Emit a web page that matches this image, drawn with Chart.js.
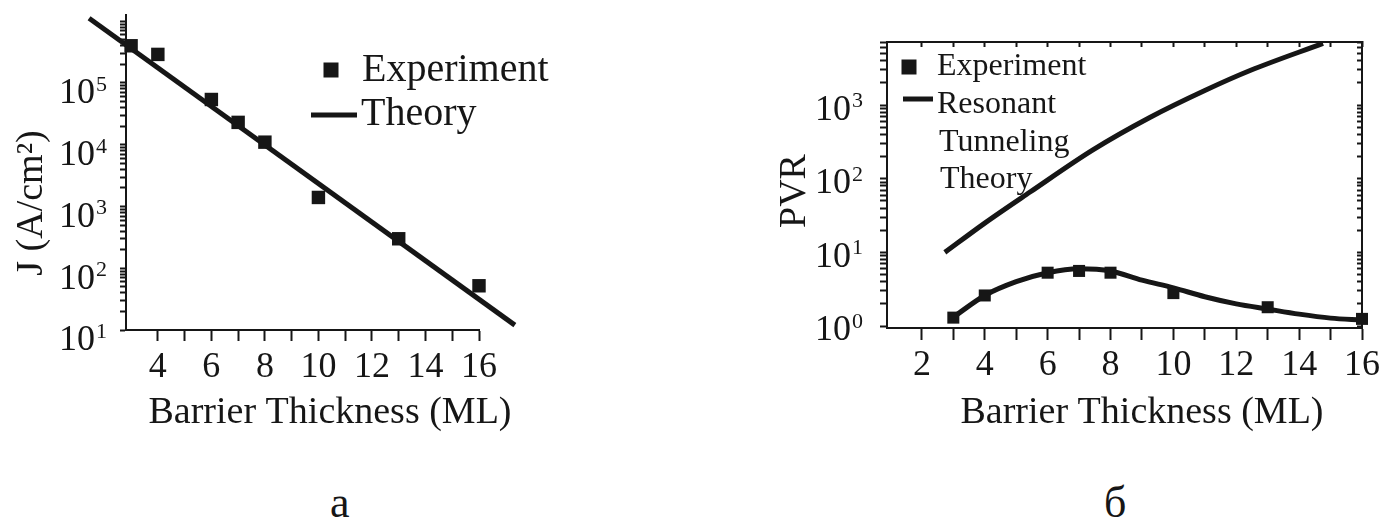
<!DOCTYPE html>
<html>
<head>
<meta charset="utf-8">
<script src="https://cdn.jsdelivr.net/npm/chart.js@4.4.1/dist/chart.umd.min.js"></script>
<style>
  body { margin: 0; background: #fff; width: 1400px; height: 530px; overflow: hidden; position: relative; font-family: 'Liberation Serif', 'DejaVu Serif', serif; }
  .box { position: absolute; top: 0; width: 700px; height: 460px; }
  .cap { position: absolute; top: 481px; font-size: 44px; line-height: 44px; color: #161616; }
</style>
</head>
<body>
<div class="box" style="left:0"><canvas id="left" width="700" height="460"></canvas></div>
<div class="box" style="left:700px"><canvas id="right" width="700" height="460"></canvas></div>
<div class="cap" style="left:330px">а</div>
<div class="cap" style="left:1104px">б</div>
<script>
const INK = '#161616';
const SERIF = "'Liberation Serif', 'DejaVu Serif', serif";

// (а) current density vs barrier thickness
const thickA = [3, 4, 6, 7, 8, 10, 13, 16];
const currentExp = [4.0e5, 2.9e5, 5.4e4, 2.3e4, 1.1e4, 1.4e3, 300, 52];
const theoryX = [1.43, 17.34];
const theoryJ = [1.12e6, 12];

// (б) peak-to-valley ratio vs barrier thickness
const thickB = [3, 4, 6, 7, 8, 10, 13, 16];
const pvrExp = [1.3, 2.6, 5.3, 5.6, 5.3, 2.8, 1.8, 1.25];
const fitX = [3, 4, 5, 6, 7, 8, 9, 10, 11, 12, 13, 14, 15, 16];
const pvrFit = [1.32, 2.6, 4.0, 5.3, 6.0, 5.6, 4.2, 3.3, 2.5, 2.0, 1.7, 1.45, 1.28, 1.2];
const rtX = [2.73, 4, 5.44, 7.44, 9.25, 11, 12.44, 14.76];
const pvrRT = [10, 25, 66, 247, 680, 1580, 2950, 6900];

// tick labels
const thickLabels = [2, 4, 6, 8, 10, 12, 14, 16];
const jDecades = [1, 2, 3, 4, 5];
const pvrDecades = [0, 1, 2, 3];

const pts = (xs, ys) => xs.map((x, i) => ({ x, y: ys[i] }));

// log ticks 1..9 x 10^n inside the range
function logTicks(scale) {
  const out = [];
  const lo = Math.floor(Math.log10(scale.min));
  const hi = Math.ceil(Math.log10(scale.max));
  for (let e = lo; e <= hi; e++) {
    for (let m = 1; m <= 9; m++) {
      const v = m * Math.pow(10, e);
      if (v >= scale.min && v <= scale.max) out.push({ value: v, major: m === 1 });
    }
  }
  scale.ticks = out;
}
const unitTicks = from => scale => {
  const out = [];
  for (let v = from; v <= 16; v++) out.push({ value: v });
  scale.ticks = out;
};

// y labels as 10^n, axis titles, legend
const decor = {
  id: 'decor',
  afterDraw(chart, args, o) {
    const ctx = chart.ctx;
    const y = chart.scales.y;
    ctx.save();
    ctx.fillStyle = INK;
    ctx.strokeStyle = INK;
    ctx.textBaseline = 'middle';
    ctx.textAlign = 'right';
    o.decades.forEach(n => {
      const py = y.getPixelForValue(Math.pow(10, n)) + o.labelDy;
      ctx.font = '22px ' + SERIF;
      const sw = ctx.measureText(String(n)).width;
      ctx.fillText(String(n), o.labelRight, py - 9);
      ctx.font = '36px ' + SERIF;
      ctx.fillText('10', o.labelRight - sw - 1, py);
    });
    o.texts.forEach(t => {
      ctx.save();
      ctx.translate(t.x, t.y);
      if (t.rot) ctx.rotate(t.rot);
      ctx.font = t.size + 'px ' + SERIF;
      ctx.textAlign = t.align || 'center';
      ctx.fillText(t.text, 0, 0);
      ctx.restore();
    });
    o.marks.forEach(m => {
      if (m.type === 'square') {
        ctx.fillRect(m.x - m.size / 2, m.y - m.size / 2, m.size, m.size);
      } else {
        ctx.lineWidth = m.w;
        ctx.beginPath();
        ctx.moveTo(m.x1, m.y);
        ctx.lineTo(m.x2, m.y);
        ctx.stroke();
      }
    });
    ctx.restore();
  }
};

const tickFont = { family: SERIF, size: 36 };
const xLabel = v => (thickLabels.includes(v) ? String(v) : '');

new Chart(document.getElementById('left'), {
  type: 'scatter',
  data: {
    datasets: [
      { label: 'Experiment', data: pts(thickA, currentExp), pointStyle: 'rect', pointRadius: 9.5,
        backgroundColor: INK, borderColor: INK, borderWidth: 0, clip: false },
      { label: 'Theory', data: pts(theoryX, theoryJ), showLine: true, borderColor: INK,
        borderWidth: 5, pointRadius: 0, clip: false }
    ]
  },
  options: {
    responsive: false,
    animation: false,
    layout: { padding: { top: 15, right: 221, left: 0, bottom: 0 } },
    plugins: {
      legend: { display: false },
      tooltip: { enabled: false },
      decor: {
        decades: jDecades, labelDy: 11, labelRight: 107,
        texts: [
          { text: 'J (A/cm²)', x: 32, y: 203, size: 38, rot: -Math.PI / 2 },
          { text: 'Barrier Thickness (ML)', x: 330, y: 413, size: 38 },
          { text: 'Experiment', x: 362, y: 70, size: 40, align: 'left' },
          { text: 'Theory', x: 361, y: 114, size: 40, align: 'left' }
        ],
        marks: [
          { type: 'square', x: 331, y: 70, size: 15 },
          { type: 'line', x1: 311, x2: 357, y: 115, w: 5 }
        ]
      }
    },
    scales: {
      x: {
        type: 'linear', min: 2.81, max: 16,
        afterFit: s => { s.height = 130; },
        afterBuildTicks: unitTicks(4),
        grid: { drawOnChartArea: false, tickLength: 11, tickColor: INK, tickWidth: 2 },
        border: { color: INK, width: 2 },
        ticks: { callback: xLabel, autoSkip: false, maxRotation: 0, font: tickFont, color: INK, padding: 5 }
      },
      y: {
        type: 'logarithmic', min: 10, max: 1.26e6,
        afterFit: s => { s.width = 126; },
        afterBuildTicks: logTicks,
        grid: { drawOnChartArea: false, tickLength: 6, tickColor: INK, tickWidth: 2 },
        border: { color: INK, width: 2 },
        ticks: { display: false }
      }
    }
  },
  plugins: [decor]
});

const edge = { drawOnChartArea: false, tickLength: -5, tickColor: INK, tickWidth: 2 };

new Chart(document.getElementById('right'), {
  type: 'scatter',
  data: {
    datasets: [
      { label: 'Experiment', data: pts(thickB, pvrExp), pointStyle: 'rect', pointRadius: 8.5,
        backgroundColor: INK, borderColor: INK, borderWidth: 0, clip: false },
      { label: 'Fit', data: pts(fitX, pvrFit), showLine: true, borderColor: INK, borderWidth: 5,
        pointRadius: 0, cubicInterpolationMode: 'monotone', clip: false },
      { label: 'Resonant Tunneling Theory', data: pts(rtX, pvrRT), showLine: true, borderColor: INK,
        borderWidth: 5, pointRadius: 0, cubicInterpolationMode: 'monotone', clip: false }
    ]
  },
  options: {
    responsive: false,
    animation: false,
    layout: { padding: { top: 42, right: 38, left: 0, bottom: 0 } },
    plugins: {
      legend: { display: false },
      tooltip: { enabled: false },
      decor: {
        decades: pvrDecades, labelDy: 5, labelRight: 163,
        texts: [
          { text: 'PVR', x: 95, y: 191, size: 38, rot: -Math.PI / 2 },
          { text: 'Barrier Thickness (ML)', x: 442, y: 413, size: 38 },
          { text: 'Experiment', x: 237, y: 67, size: 32, align: 'left' },
          { text: 'Resonant', x: 237, y: 105, size: 32, align: 'left' },
          { text: 'Tunneling', x: 239, y: 143, size: 32, align: 'left' },
          { text: 'Theory', x: 240, y: 180, size: 32, align: 'left' }
        ],
        marks: [
          { type: 'square', x: 209, y: 67, size: 15 },
          { type: 'line', x1: 203, x2: 233, y: 99, w: 5 }
        ]
      }
    },
    scales: {
      x: {
        type: 'linear', min: 0.89, max: 16,
        afterFit: s => { s.height = 132; },
        afterBuildTicks: unitTicks(2),
        grid: { drawOnChartArea: false, tickLength: 12, tickColor: INK, tickWidth: 2 },
        border: { color: INK, width: 2 },
        ticks: { callback: xLabel, autoSkip: false, maxRotation: 0, font: tickFont, color: INK, padding: 4 }
      },
      x2: {
        type: 'linear', position: 'top', min: 0.89, max: 16,
        afterFit: s => { s.height = 0; },
        afterBuildTicks: unitTicks(2),
        grid: edge, border: { color: INK, width: 2 }, ticks: { display: false }
      },
      y: {
        type: 'logarithmic', min: 0.94, max: 7200,
        afterFit: s => { s.width = 187; },
        afterBuildTicks: logTicks,
        grid: { drawOnChartArea: false, tickLength: 7, tickColor: INK, tickWidth: 2 },
        border: { color: INK, width: 2 },
        ticks: { display: false }
      },
      y2: {
        type: 'logarithmic', position: 'right', min: 0.94, max: 7200,
        afterFit: s => { s.width = 0; },
        afterBuildTicks: logTicks,
        grid: edge, border: { color: INK, width: 2 }, ticks: { display: false }
      }
    }
  },
  plugins: [decor]
});
</script>
</body>
</html>
